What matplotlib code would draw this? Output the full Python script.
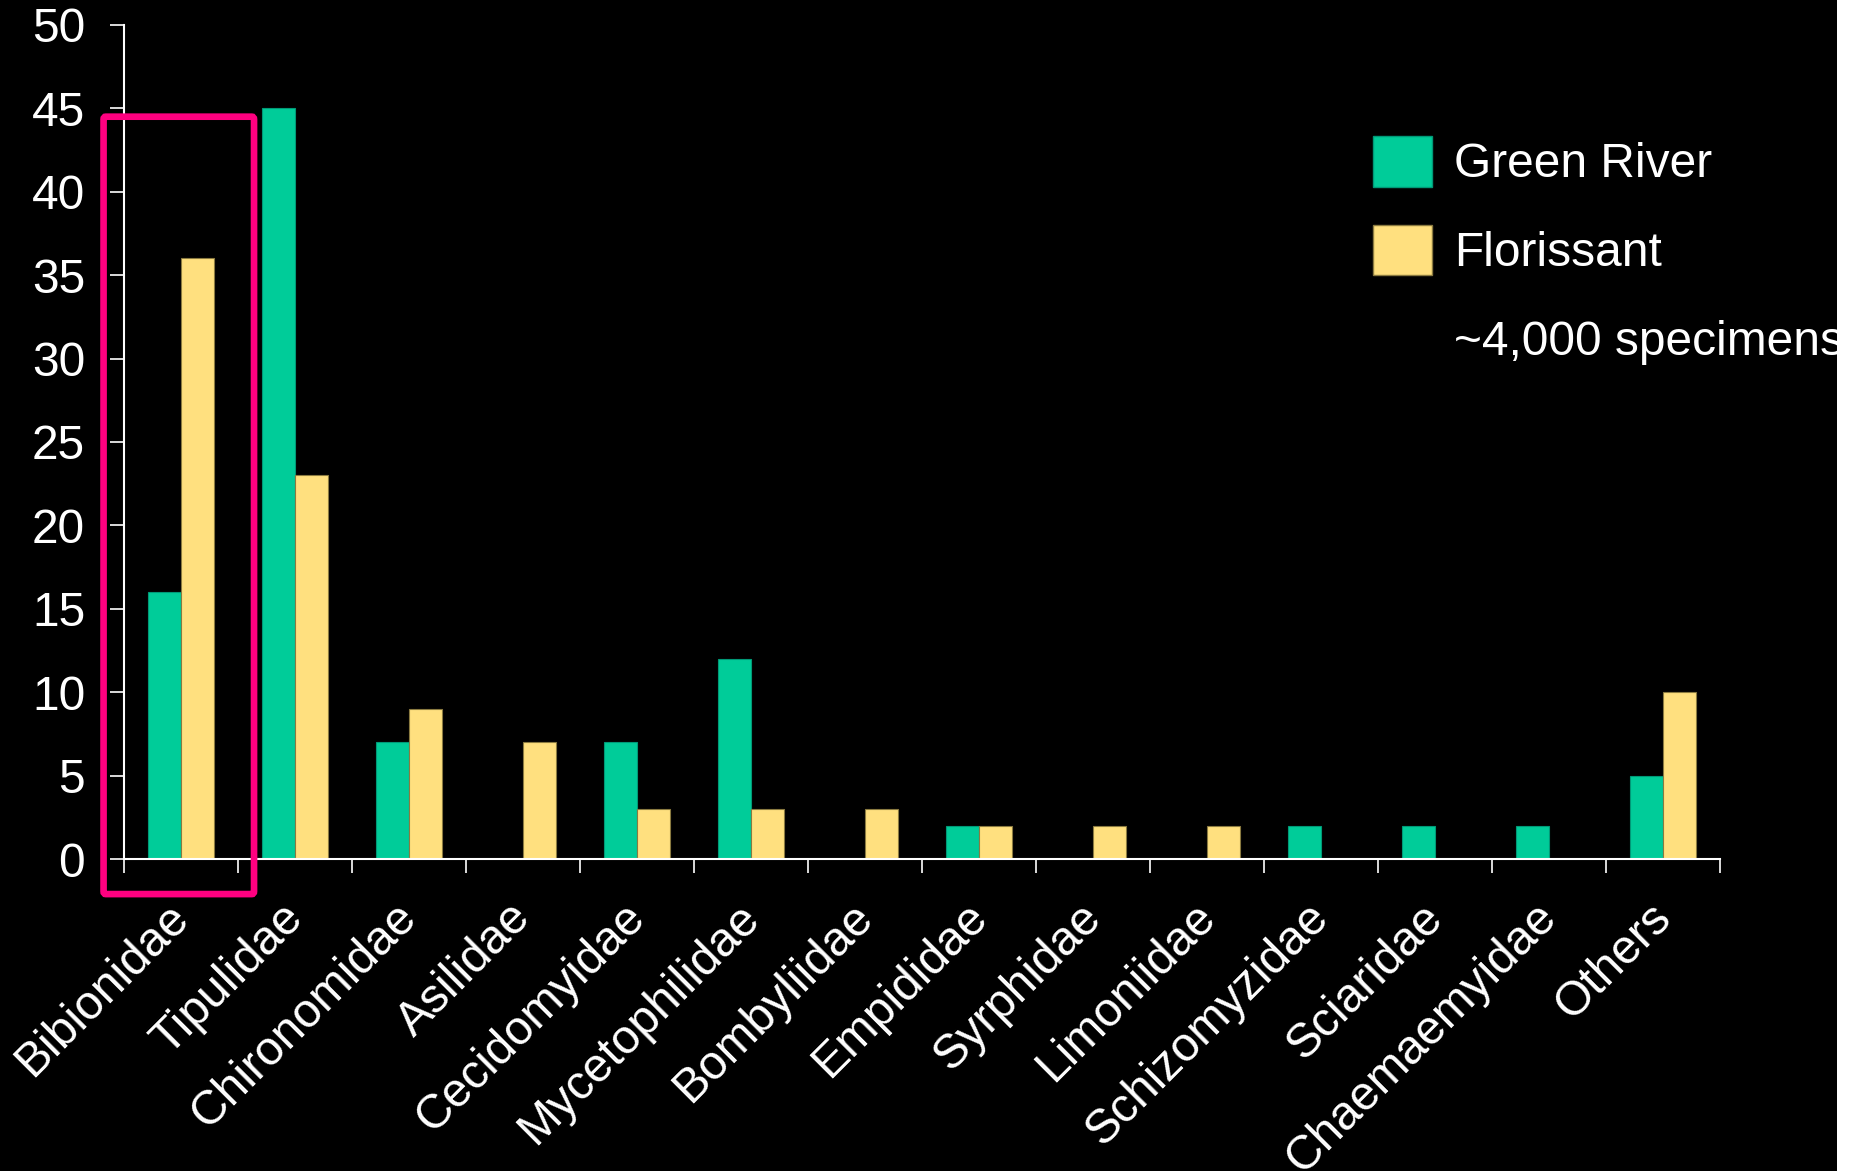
import matplotlib
matplotlib.use("Agg")
import matplotlib.pyplot as plt
import matplotlib.patches as patches
import matplotlib.transforms as mtransforms
import numpy as np

families = ["Bibionidae", "Tipulidae", "Chironomidae", "Asilidae", "Cecidomyidae",
            "Mycetophilidae", "Bombyliidae", "Empididae", "Syrphidae", "Limoniidae",
            "Schizomyzidae", "Sciaridae", "Chaemaemyidae", "Others"]
green_river = [16, 45, 7, 0, 7, 12, 0, 2, 0, 0, 2, 2, 2, 5]
florissant = [36, 23, 9, 7, 3, 3, 3, 2, 2, 2, 0, 0, 0, 10]
y_ticks = [0, 5, 10, 15, 20, 25, 30, 35, 40, 45, 50]

GREEN = "#00CC99"
YELLOW = "#FFE07F"
FS = 34.5
LEG_FS = 34.5

plt.rcParams['font.family'] = ['Liberation Sans', 'DejaVu Sans']

fig = plt.figure(figsize=(18.63, 11.71), dpi=100, facecolor="black")
ax = fig.add_axes([0.0666, 0.2664, 0.8567, 0.7123])
ax.set_facecolor("black")

x = np.arange(len(families))
w = 0.29
ax.bar(x - w / 2, green_river, w, color=GREEN, edgecolor="#009977", linewidth=0.8)
ax.bar(x + w / 2, florissant, w, color=YELLOW, edgecolor="#8a7a40", linewidth=0.8)

ax.set_xlim(-0.5, len(families) - 0.5)
ax.set_ylim(0, 50)
ax.set_yticks(y_ticks)
ax.set_yticklabels([str(v) for v in y_ticks])

# tick marks sit on the category boundaries, labels in the middle
ax.set_xticks(np.arange(len(families) + 1) - 0.5)
ax.set_xticklabels([])
ax.set_xticks(x, minor=True)
ax.set_xticklabels(families, minor=True, rotation=45, ha="right")

for side in ["top", "right"]:
    ax.spines[side].set_visible(False)
for side in ["left", "bottom"]:
    ax.spines[side].set_color("white")
    ax.spines[side].set_linewidth(1.5)

ax.tick_params(axis="y", colors="white", length=10, width=1.2,
               labelsize=FS, pad=18)
ax.tick_params(axis="x", which="major", colors="white", length=10, width=1.2)
ax.tick_params(axis="x", which="minor", colors="white", length=0,
               labelsize=FS, pad=22)

# nudge the slanted labels a little right and down
shift = mtransforms.ScaledTranslation(0.17, -0.05, fig.dpi_scale_trans)
for lab in ax.get_xticklabels(minor=True):
    lab.set_transform(lab.get_transform() + shift)

# highlight box around the first family
box = patches.FancyBboxPatch((-0.68, -2.1), 1.32, 46.6,
                             boxstyle="round,pad=0,rounding_size=0.02",
                             fill=False, edgecolor="#FF0080", linewidth=4.8,
                             clip_on=False, zorder=5, mutation_aspect=8)
ax.add_patch(box)

handles = [patches.Patch(facecolor=GREEN, edgecolor="#009977"),
           patches.Patch(facecolor=YELLOW, edgecolor="#8a7a40"),
           patches.Patch(facecolor="none", edgecolor="none")]
leg = ax.legend(handles, ["Green River", "Florissant", "~4,000 specimens"],
                loc="upper left", bbox_to_anchor=(1373 / 1863, 1 - 136 / 1171),
                bbox_transform=fig.transFigure, frameon=False, fontsize=LEG_FS,
                handlelength=1.24, handleheight=1.25, handletextpad=0.45,
                labelspacing=0.78, borderpad=0, borderaxespad=0)
for t in leg.get_texts():
    t.set_color("white")

# white strip down the right edge
fig.add_artist(patches.Rectangle((1837 / 1863, 0), 1, 1, transform=fig.transFigure,
                                 facecolor="white", edgecolor="none", zorder=10))

fig.savefig("out.png", dpi=100, facecolor="black")
